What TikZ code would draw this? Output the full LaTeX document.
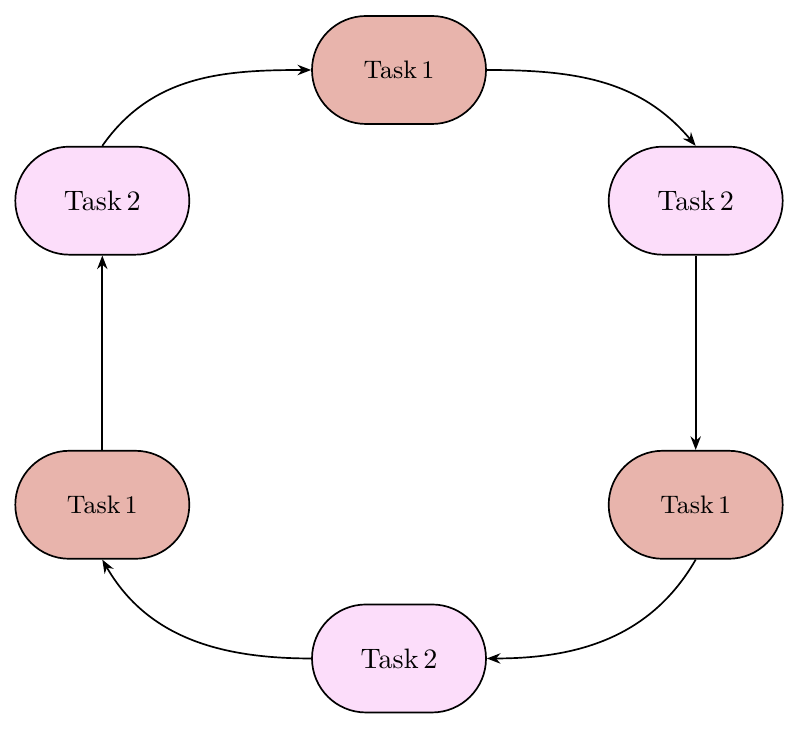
\documentclass[tikz,border=0pt]{standalone}
\usepackage{xcolor}
\usepackage{tikz}
\usetikzlibrary{arrows.meta,positioning,calc}
\definecolor{tkRose}{HTML}{E8B4AC}
\definecolor{tkPink}{HTML}{FCDDFA}
\tikzset{
  task box/.style={draw=black,semithick,rounded corners=0.675cm,minimum width=2.175cm,minimum height=1.35cm,
    inner sep=2pt},
  first task/.style={task box,fill=tkRose,font=\small},
  second task/.style={task box,fill=tkPink},
  flow arrow/.style={-{Stealth[length=1.7mm,width=1.3mm]},semithick,draw=black}
}
\begin{document}
\begin{tikzpicture}[node distance=2.45cm and 1.5125cm]
\useasboundingbox (-4.9875,0.875) rectangle (5.0125,-8.225);
\node[first task] (top) at (0,0) {Task\,1};
\node[second task,below left=0.2625cm and 1.5125cm of top] (left2) {Task\,2};
\node[second task,below right=0.2625cm and 1.5125cm of top] (right2) {Task\,2};
\node[first task,below=2.43cm of left2] (left1) {Task\,1};
\node[first task,below=2.43cm of right2] (right1) {Task\,1};
\node[second task,below right=0.55cm and 1.5125cm of left1] (bottom) {Task\,2};
\draw[flow arrow] (top.east) to[out=0,in=130] (right2.north);
\draw[flow arrow] (right2) -- (right1);
\draw[flow arrow] (right1.south) to[out=-120,in=0] (bottom.east);
\draw[flow arrow] (bottom.west) to[out=180,in=-60] (left1.south);
\draw[flow arrow] (left1) -- (left2);
\draw[flow arrow] (left2.north) to[out=55,in=180] (top.west);
\end{tikzpicture}
\end{document}
